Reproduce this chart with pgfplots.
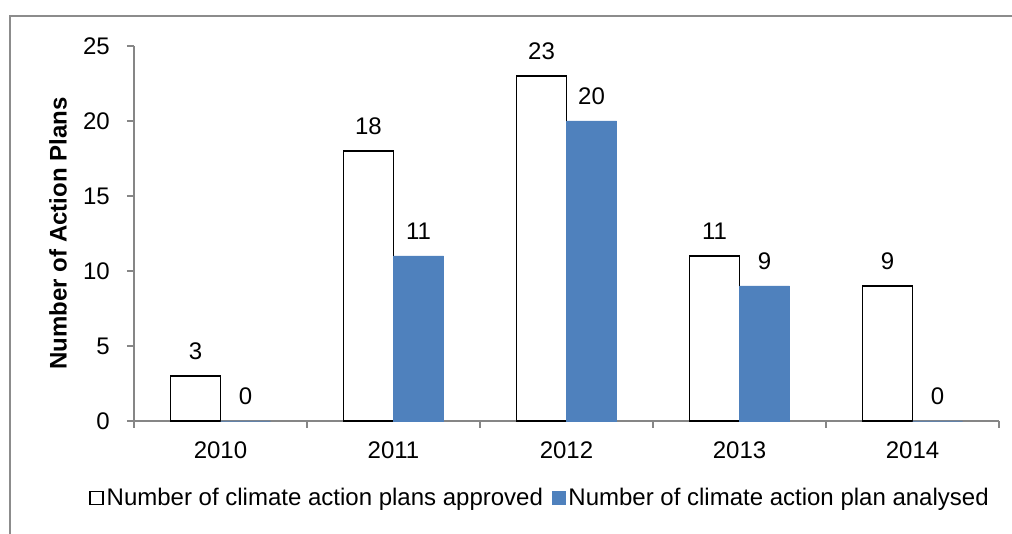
\documentclass[border=0pt]{standalone}
\usepackage{pgfplots}
\pgfplotsset{compat=1.18}
\usepackage{fontspec}
\setmainfont{Liberation Sans}
\definecolor{barblue}{HTML}{4F81BD}
\definecolor{axisgray}{HTML}{868686}
\definecolor{framegray}{HTML}{8C8C8C}
\pgfplotsset{/pgf/number format/assume math mode=true}
\begin{document}
\begin{tikzpicture}[x=1bp,y=1bp,font=\fontsize{24bp}{28bp}\selectfont]
\path[use as bounding box] (-134,-113) rectangle (878,421);
\begin{axis}[
  at={(0,0)}, anchor=south west,
  scale only axis, width=865bp, height=375bp,
  xmin=-0.5, xmax=4.5, ymin=0, ymax=25,
  ybar, bar width=50bp,
  clip=false,
  axis lines*=left,
  axis line style={draw=axisgray, line width=1.3bp, -},
  xtick={0,1,2,3,4},
  xticklabels={2010,2011,2012,2013,2014},
  minor xtick={-0.5,0.5,1.5,2.5,3.5,4.5},
  ytick={0,5,10,15,20,25},
  tick align=outside,
  major tick length=7bp, minor tick length=7bp,
  tick style={draw=axisgray, line width=1.3bp},
  major x tick style={draw=none},
  xticklabel style={anchor=north, inner sep=0pt, yshift=-14bp},
  yticklabel style={anchor=east, inner sep=0pt, xshift=-17bp},
  ylabel={\bfseries Number of Action Plans},
  ylabel style={at={(axis description cs:-0.0879,0.5)}, anchor=center},
  nodes near coords,
  every node near coord/.append style={anchor=center, yshift=25bp, inner sep=0pt},
  legend columns=2,
  legend style={at={(axis description cs:-0.052,-0.2053)}, anchor=west,
    draw=none, fill=none, inner sep=0pt,
    nodes={inner xsep=3bp, inner ysep=0pt},
    /tikz/every even column/.append style={column sep=6bp}},
]
\addplot[draw=black, fill=white, line width=1.5bp, bar shift=-25bp,
  legend image code/.code={\draw[black, fill=white, line width=1.5bp] (0bp,-6.5bp) rectangle (13bp,6.5bp);}]
  coordinates {(0,3) (1,18) (2,23) (3,11) (4,9)};
\addlegendentry{Number of climate action plans approved}
\addplot[draw=barblue, fill=barblue, line width=0.5bp, bar shift=25bp,
  legend image code/.code={\fill[barblue] (0bp,-6.5bp) rectangle (13bp,6.5bp);}]
  coordinates {(0,0) (1,11) (2,20) (3,9) (4,0)};
\addlegendentry{Number of climate action plan analysed}
\end{axis}
\draw[framegray, line width=2bp] (-124,-130) -- (-124,405) -- (900,405);
\end{tikzpicture}
\end{document}
